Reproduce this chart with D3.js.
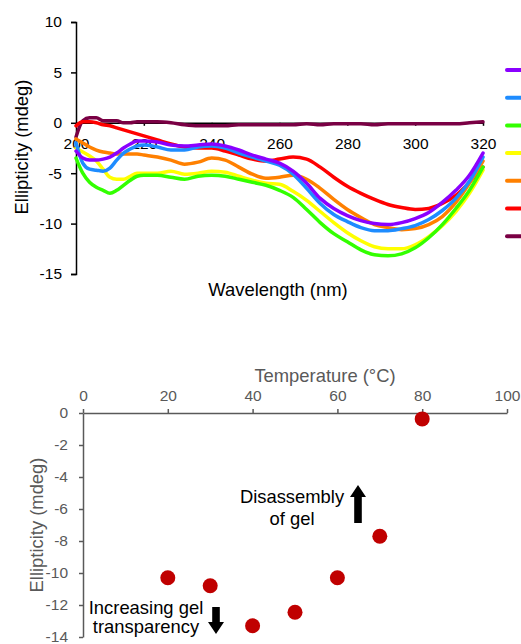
<!DOCTYPE html>
<html>
<head>
<meta charset="utf-8">
<script src="https://cdn.jsdelivr.net/npm/d3@7"></script>
<style>
  body { margin: 0; background: #fff; }
  text { font-family: "Liberation Sans", Arial, sans-serif; }
</style>
</head>
<body>
<div id="chart"></div>
<script>
// CD spectra (top panel)
const wavelengths = [200,202,204,206,208,210,212,214,216,218,220,224,228,232,236,240,244,248,252,256,260,264,268,272,276,280,284,288,292,296,300,304,308,312,316,320];
const purple = [-2.8,-3.5,-3.7,-3.7,-3.6,-3.4,-3.0,-2.5,-2.1,-1.8,-1.8,-1.9,-2.2,-2.3,-2.2,-2.1,-2.3,-2.7,-3.2,-3.6,-4.0,-4.8,-6.0,-7.5,-8.5,-9.2,-9.7,-10.0,-10.1,-9.9,-9.5,-8.9,-7.9,-6.7,-5.2,-3.0];
const blue = [-2.0,-4.0,-4.6,-4.7,-4.8,-4.5,-3.7,-3.0,-2.6,-2.3,-2.2,-2.4,-2.7,-2.7,-2.4,-2.3,-2.5,-3.0,-3.4,-3.8,-4.2,-5.1,-6.5,-8.0,-9.1,-9.8,-10.4,-10.7,-10.7,-10.5,-10.2,-9.6,-8.7,-7.5,-5.8,-3.4];
const green = [-3.5,-5.0,-5.9,-6.4,-6.7,-7.0,-6.7,-6.2,-5.7,-5.3,-5.2,-5.2,-5.4,-5.6,-5.3,-5.2,-5.3,-5.6,-5.9,-6.2,-6.7,-7.4,-8.6,-9.9,-11.0,-11.8,-12.6,-13.1,-13.2,-13.0,-12.4,-11.4,-10.1,-8.5,-6.7,-4.4];
const yellow = [-2.5,-2.9,-3.3,-3.8,-4.6,-5.4,-5.6,-5.6,-5.3,-5.0,-5.0,-5.0,-4.8,-5.1,-5.0,-4.8,-4.9,-5.3,-5.7,-6.0,-6.1,-6.8,-7.7,-8.8,-9.9,-10.9,-11.7,-12.3,-12.5,-12.5,-12.1,-11.3,-10.2,-8.8,-7.0,-4.7];
const orange = [-1.6,-2.0,-2.4,-2.7,-2.9,-3.0,-3.1,-3.1,-3.1,-3.1,-3.2,-3.4,-3.7,-4.1,-3.9,-3.5,-3.7,-4.4,-5.1,-5.5,-5.4,-5.2,-5.6,-6.5,-7.6,-8.6,-9.4,-10.1,-10.4,-10.6,-10.5,-10.1,-9.3,-7.9,-6.0,-3.8];
const red = [-0.3,0.1,0.1,0.0,-0.2,-0.3,-0.5,-0.7,-0.9,-1.1,-1.3,-1.7,-2.1,-2.4,-2.5,-2.5,-2.8,-3.2,-3.6,-3.8,-3.6,-3.4,-3.6,-4.4,-5.4,-6.3,-7.0,-7.6,-8.1,-8.4,-8.6,-8.5,-8.0,-7.2,-5.9,-4.4];
const maroon = [-1.4,0.2,0.5,0.5,0.2,0.2,0.2,0.0,0.0,0.1,0.1,0.1,0.0,-0.2,-0.3,-0.3,-0.3,-0.2,-0.2,-0.2,-0.2,-0.2,-0.1,-0.2,-0.1,-0.1,-0.1,-0.2,-0.1,-0.1,-0.1,-0.1,-0.1,-0.1,0.0,0.1];
const seriesColors = ['#8a00ff', '#1e8cff', '#33ff00', '#ffff00', '#ff8000', '#ff0000', '#7a0044'];
const wlTicks = [200, 220, 240, 260, 280, 300, 320];
const cdTicks = [10, 5, 0, -5, -10, -15];

// thermal melt (bottom panel)
const temps = [20, 30, 40, 50, 60, 70, 80];
const meltValues = [-10.3, -10.8, -13.3, -12.45, -10.3, -7.7, -0.37];
const tempTicks = [0, 20, 40, 60, 80, 100];
const meltTicks = [0, -2, -4, -6, -8, -10, -12, -14];

const width = 521, height = 644;
const svg = d3.select('#chart').append('svg')
    .attr('width', width)
    .attr('height', height);

const hyphen = d => String(d); // plain hyphen minus like the original

// ---------- top panel ----------
const x1 = d3.scaleLinear().domain([200, 320]).range([76, 483]);
const y1 = d3.scaleLinear().domain([-15, 10]).range([274, 22]);

const topG = svg.append('g');

topG.append('g')
    .attr('transform', 'translate(76,0)')
    .call(d3.axisLeft(y1).tickValues(cdTicks).tickSize(5).tickPadding(9).tickFormat(hyphen))
    .call(g => g.selectAll('text').attr('font-size', 15.5).attr('fill', '#000'))
    .call(g => g.selectAll('line, path').attr('stroke', '#000').attr('stroke-width', 1.5));

topG.append('g')
    .attr('transform', `translate(0,${y1(0)})`)
    .call(d3.axisBottom(x1).tickValues(wlTicks).tickSize(3).tickPadding(12).tickSizeOuter(0))
    .call(g => g.selectAll('text').attr('font-size', 15.5).attr('fill', '#000'))
    .call(g => g.selectAll('line, path').attr('stroke', '#000').attr('stroke-width', 1.5));

const allSeries = [purple, blue, green, yellow, orange, red, maroon];
const line = d3.line()
    .x((d, i) => x1(wavelengths[i]))
    .y(d => y1(d))
    .curve(d3.curveMonotoneX);

// draw in reverse so purple ends on top like the original
allSeries.slice().reverse().forEach((s, k) => {
    const i = allSeries.length - 1 - k;
    topG.append('path')
        .datum(s)
        .attr('fill', 'none')
        .attr('stroke', seriesColors[i])
        .attr('stroke-width', 3.5)
        .attr('stroke-linejoin', 'round')
        .attr('stroke-linecap', 'round')
        .attr('d', line);
});

// legend swatches (labels run off the edge)
seriesColors.forEach((c, i) => {
    topG.append('line')
        .attr('x1', 507).attr('x2', 530)
        .attr('y1', 70 + i * 27.7).attr('y2', 70 + i * 27.7)
        .attr('stroke', c)
        .attr('stroke-width', 4)
        .attr('stroke-linecap', 'round');
});

topG.append('text')
    .attr('transform', 'translate(28,147) rotate(-90)')
    .attr('text-anchor', 'middle')
    .attr('font-size', 18.4)
    .text('Ellipticity (mdeg)');

topG.append('text')
    .attr('x', 278).attr('y', 296)
    .attr('text-anchor', 'middle')
    .attr('font-size', 18.4)
    .text('Wavelength (nm)');

// ---------- bottom panel ----------
const gray = '#595959';
const x2 = d3.scaleLinear().domain([0, 100]).range([83, 507]);
const y2 = d3.scaleLinear().domain([-14, 0]).range([637, 413]);

const botG = svg.append('g');

botG.append('g')
    .attr('transform', `translate(0,${y2(0)})`)
    .call(d3.axisTop(x2).tickValues(tempTicks).tickSize(4).tickPadding(8).tickSizeOuter(0))
    .call(g => g.selectAll('text').attr('font-size', 15.5).attr('fill', gray))
    .call(g => g.selectAll('line, path').attr('stroke', gray).attr('stroke-width', 1.5));

botG.append('g')
    .attr('transform', `translate(${x2(0)},0)`)
    .call(d3.axisLeft(y2).tickValues(meltTicks).tickSize(4).tickPadding(11).tickSizeOuter(0).tickFormat(hyphen))
    .call(g => g.selectAll('text').attr('font-size', 15.5).attr('fill', gray))
    .call(g => g.selectAll('line, path').attr('stroke', gray).attr('stroke-width', 1.5));

botG.selectAll('circle')
    .data(temps)
    .enter()
    .append('circle')
    .attr('cx', d => x2(d))
    .attr('cy', (d, i) => y2(meltValues[i]))
    .attr('r', 7.5)
    .attr('fill', '#c00000');

botG.append('text')
    .attr('x', 325).attr('y', 382)
    .attr('text-anchor', 'middle')
    .attr('font-size', 18.4)
    .attr('fill', gray)
    .text('Temperature (°C)');

botG.append('text')
    .attr('transform', 'translate(43,525) rotate(-90)')
    .attr('text-anchor', 'middle')
    .attr('font-size', 18.4)
    .attr('fill', gray)
    .text('Ellipticity (mdeg)');

// annotations
function addLines(cx, ys, lines) {
    lines.forEach((t, i) => {
        botG.append('text')
            .attr('x', cx).attr('y', ys[i])
            .attr('text-anchor', 'middle')
            .attr('font-size', 18.4)
            .attr('fill', '#000')
            .text(t);
    });
}
addLines(292, [503, 525], ['Disassembly', 'of gel']);
addLines(146, [614, 633], ['Increasing gel', 'transparency']);

function arrow(x, yTail, yTip) {
    const dir = yTip < yTail ? -1 : 1;
    const headLen = 12, headW = 8, shaftW = 3.8;
    const yBase = yTip - dir * headLen;
    const pts = [
        [x - shaftW, yTail], [x - shaftW, yBase], [x - headW, yBase],
        [x, yTip], [x + headW, yBase], [x + shaftW, yBase], [x + shaftW, yTail]
    ];
    botG.append('path')
        .attr('d', d3.line()(pts) + 'Z')
        .attr('fill', '#000');
}
arrow(358, 523, 485);
arrow(216, 607, 634);
</script>
</body>
</html>
